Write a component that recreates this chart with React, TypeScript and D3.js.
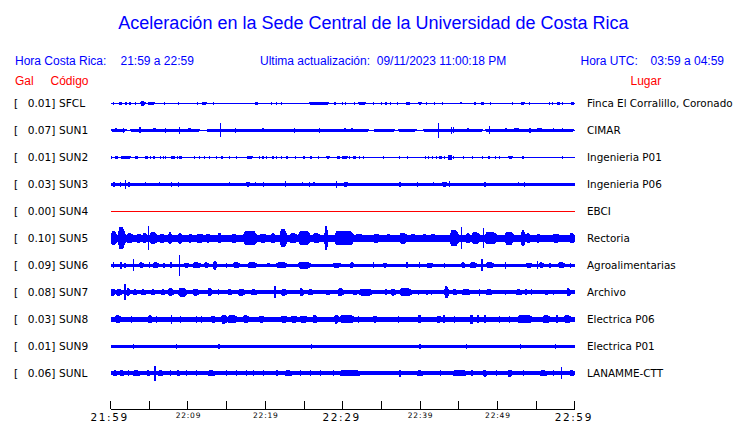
import React from 'react';
import * as d3 from 'd3';

const W = 740;
const H = 423;

// ---------- data ----------
const codes = ['SFCL', 'SUN1', 'SUN2', 'SUN3', 'SUN4', 'SUN5', 'SUN6', 'SUN7', 'SUN8', 'SUN9', 'SUNL'];
const galValues = [0.01, 0.07, 0.01, 0.03, 0.0, 0.1, 0.09, 0.08, 0.03, 0.01, 0.06];
const places = [
  'Finca El Corralillo, Coronado',
  'CIMAR',
  'Ingenieria P01',
  'Ingenieria P06',
  'EBCI',
  'Rectoria',
  'Agroalimentarias',
  'Archivo',
  'Electrica P06',
  'Electrica P01',
  'LANAMME-CTT',
];
const inactive = ['SUN4'];
// background noise half-amplitude (relative units) per station
const noiseLevel = [0.5, 0.5, 0.5, 1.7, 0.5, 3.2, 1.7, 2.0, 2.7, 1.7, 2.0];

// events: [startMinute, endMinute, halfAmplitude]
const evSFCL = [
  [0.36, 0.36, 1.3], [1.1, 1.5, 1.5], [2.0, 2.0, 1.3], [2.5, 2.5, 1.3], [3.2, 3.2, 1.3], [3.9, 4.5, 2.2],
  [4.8, 5.8, 1.8], [7.0, 7.0, 1.3], [8.8, 8.8, 1.3], [11.2, 11.2, 1.3], [11.8, 12.5, 1.5], [13.3, 13.3, 1.3],
  [18.7, 19.0, 1.5], [20.8, 20.8, 1.3], [21.4, 21.4, 1.3], [22.1, 22.1, 1.3], [25.7, 28.2, 1.8], [29.0, 29.0, 1.3],
  [30.0, 30.0, 1.3], [30.4, 30.4, 1.3], [31.5, 31.5, 1.3], [32.0, 33.1, 1.3], [34.0, 34.0, 1.3], [35.0, 35.0, 1.3],
  [35.6, 35.6, 1.3], [36.2, 36.2, 1.3], [37.1, 37.1, 1.3], [38.3, 38.6, 1.8], [39.8, 40.2, 1.3], [40.8, 40.8, 1.3],
  [41.9, 41.9, 1.3], [42.9, 42.9, 1.3], [45.3, 45.3, 1], [47.1, 47.1, 1.3], [47.9, 48.3, 1.8], [49.1, 49.1, 1.3],
  [51.9, 51.9, 1.3], [53.1, 53.5, 1.8], [54.1, 54.1, 1.3], [56.7, 56.7, 1.3], [57.1, 57.1, 1.3], [57.7, 58.1, 1.8],
  [58.4, 58.4, 1.3], [59.5, 60, 1.8],
];
const evSUN1 = [
  [0, 2.1, 1.5], [2.5, 11.6, 1.5], [12.4, 33.5, 1.5], [34, 36.8, 1.5], [37.2, 39.6, 1.5], [40.4, 48.2, 1.5], [48.4, 60, 1.5],
  [0.5, 1.0, 2], [5.5, 6.0, 2], [10.0, 10.5, 2], [19.5, 20, 2], [31, 31.5, 2], [46, 46.5, 2], [52, 53, 2], [55, 56, 2],
  [1.65, 1.65, 2.5], [3.8, 3.8, 3], [7.1, 7.1, 2.5], [8.9, 8.9, 3.5], [14.2, 14.2, 7], [16.1, 16.1, 2.5],
  [23.8, 23.8, 2.5], [27, 27, 2.5], [30.3, 30.3, 2], [42.4, 42.4, 7.8], [44.1, 44.1, 3.5], [44.3, 44.3, 3],
  [49, 49, 4], [51.1, 51.1, 2], [54.2, 54.2, 2.5], [57.2, 57.2, 2], [58.4, 58.4, 2],
];
const evSUN2 = [
  [0.03, 0.03, 1.5], [0.58, 1.0, 1.5], [1.3, 2.7, 1.5], [3.2, 3.4, 1.5], [4.5, 4.7, 1.5], [5.2, 5.2, 1.5],
  [5.6, 5.6, 1.5], [6.4, 6.4, 1.5], [6.8, 6.8, 1.5], [7.1, 7.1, 1.5], [7.9, 8.2, 1.5], [8.6, 8.6, 1.5],
  [8.9, 9.2, 1.5], [10.8, 10.8, 1.5], [11.5, 11.5, 1.5], [12.1, 12.1, 1.5], [12.8, 12.8, 1.5], [13.7, 13.7, 1.5],
  [14.4, 14.4, 1.5], [15.4, 15.4, 1.5], [16.3, 16.3, 1.5], [17.6, 18.5, 1.5], [19.2, 19.2, 1.5], [19.7, 19.7, 1.5],
  [20.1, 20.1, 1.5], [21.0, 21.0, 1.5], [21.4, 21.4, 1.5], [22.1, 22.1, 1.5], [22.8, 22.8, 1.5], [23.9, 23.9, 1.5],
  [25.0, 25.0, 1.5], [25.9, 25.9, 1.5], [26.9, 26.9, 1.5], [27.9, 28.4, 1.5], [29.3, 29.7, 1.5], [29.9, 30.7, 1.5],
  [30.9, 30.9, 1.5], [31.4, 31.7, 1.5], [32.2, 32.2, 1.5], [32.7, 32.7, 1.5], [35.3, 35.3, 1.5], [37.3, 37.3, 1.5],
  [38.4, 38.4, 1.5], [40.7, 40.7, 1.5], [41.1, 41.1, 1.5], [41.6, 41.6, 1.5], [42.1, 42.1, 1.5], [42.5, 42.8, 1.5],
  [43.2, 43.2, 1.5], [43.7, 44.0, 2.5], [44.3, 44.3, 1.5], [45.6, 45.6, 1.5], [46.8, 46.8, 1.5], [48.1, 48.1, 1.5],
  [48.9, 48.9, 1.5], [49.7, 49.7, 1.5], [50.3, 50.3, 1.5], [51.4, 52.1, 1.5], [53.3, 53.3, 1.5], [58.4, 58.4, 1.5],
];
const evSUN3 = [
  [0.45, 0.45, 2.5], [1.23, 1.23, 2.5], [1.91, 1.91, 4.5], [2.39, 2.39, 2.5], [4.5, 4.5, 2], [6.27, 6.27, 2],
  [7.82, 7.82, 2.5], [8.76, 8.76, 2.5], [15.35, 15.35, 2], [17.6, 18.0, 2.5], [18.7, 18.7, 2], [19.75, 19.75, 2.5],
  [22.6, 22.6, 3], [24.8, 24.8, 2], [25.7, 25.7, 2.5], [26.3, 26.3, 2], [29.2, 29.2, 3.5], [30.2, 30.7, 2.5],
  [37.4, 37.4, 2.5], [39.65, 39.65, 2.5], [41.7, 41.7, 2], [42.9, 43.4, 2.5], [43.8, 43.8, 3], [48.4, 48.4, 2.5],
  [52.7, 52.7, 2], [53.5, 53.5, 2.5],
];
const evSUN4: number[][] = [];
const evSUN5 = [
  [0, 0.8, 7], [1.0, 1.9, 11], [2.1, 2.9, 5], [3.4, 4.0, 4.5], [4.2, 4.7, 5], [4.9, 4.9, 12], [5.1, 6.0, 6],
  [6.4, 7.0, 4.5], [7.5, 7.9, 6], [8.8, 9.2, 5.5], [10.1, 10.5, 4.5], [11.1, 12.0, 4.5], [12.4, 12.9, 4.5],
  [13.9, 14.2, 5], [15.7, 16.3, 4.5], [17.2, 18.9, 7], [19.3, 20.2, 4.5], [20.8, 21.3, 5], [21.9, 22.8, 9],
  [23.2, 24.1, 5], [24.3, 25.8, 7], [26.2, 27.1, 5], [27.7, 28.1, 12], [29.0, 31.4, 7], [31.6, 32.7, 4],
  [34.0, 34.8, 4.5], [35.7, 36.3, 4], [37.4, 38.3, 5.5], [38.7, 39.6, 4], [40.4, 40.9, 4], [41.3, 42.2, 4],
  [43.9, 45.0, 8], [45.4, 45.4, 11], [46.0, 46.5, 5], [46.7, 47.7, 6], [48.2, 48.2, 10], [48.4, 49.9, 6],
  [51.0, 52.1, 6.5], [53.1, 53.6, 8], [53.8, 54.2, 5], [55.1, 55.5, 4.5], [57.2, 58.1, 4.5], [59.4, 60, 5],
];
const evSUN6 = [
  [0.36, 0.36, 3], [1.23, 1.45, 3.5], [1.87, 1.87, 2.5], [2.95, 2.95, 6], [3.8, 4.24, 3], [5.0, 5.0, 3],
  [5.5, 6.2, 3], [6.9, 6.9, 2.5], [7.8, 7.8, 3], [8.9, 8.9, 10.5], [9.6, 10.1, 2.5], [10.7, 11.6, 3],
  [12.2, 12.6, 3], [13.3, 13.7, 4.5], [15.0, 15.0, 2.5], [15.9, 16.7, 3], [17.8, 18.9, 3], [20.2, 20.6, 2],
  [21.5, 22.8, 3], [24.3, 25.8, 3.5], [28.8, 29.7, 2.5], [31.0, 31.4, 3], [34.0, 34.0, 3], [35.3, 35.7, 2.5],
  [38.3, 38.3, 3], [39.9, 39.9, 3], [40.9, 41.7, 2.5], [43.2, 43.2, 2.5], [45.4, 45.8, 3], [46.5, 47.3, 3],
  [48.0, 48.0, 6], [48.6, 49.5, 3], [51.0, 51.0, 3.5], [53.8, 54.4, 2.5], [55.2, 55.2, 4], [55.5, 55.9, 3],
  [56.8, 56.8, 2.5], [57.9, 58.7, 3], [59.4, 59.4, 2.5],
];
const evSUN7 = [
  [0, 0.58, 3.5], [0.8, 1.45, 3.5], [1.87, 1.87, 8], [2.1, 2.5, 4], [2.95, 3.4, 3], [4.0, 4.5, 3],
  [5.3, 5.75, 3], [6.6, 7.0, 3], [7.5, 8.1, 4], [8.8, 9.85, 4.5], [10.7, 11.35, 3.5], [12.6, 13.1, 4],
  [13.9, 13.9, 3], [15.2, 15.7, 3], [16.5, 17.4, 3.5], [18.25, 18.9, 3], [21.26, 21.26, 6], [22.1, 22.8, 3.5],
  [24.5, 24.9, 4], [25.6, 26.2, 3], [27.9, 28.4, 2.5], [29.4, 30.1, 4], [31.4, 31.8, 2.5], [32.2, 33.8, 3.5],
  [35.5, 35.7, 3], [36.3, 36.8, 3.5], [37.4, 38.9, 4], [39.8, 39.8, 2.5], [40.9, 40.9, 2.5], [41.5, 41.5, 2.5],
  [43.2, 43.7, 6], [44.3, 44.7, 3], [45.4, 46.5, 3], [47.7, 47.7, 3.5], [48.6, 49.3, 3], [51.0, 51.0, 2.5],
  [52.5, 53.1, 3], [53.6, 53.8, 3], [54.4, 54.4, 3], [56.2, 56.4, 2.5], [57.2, 57.2, 2.5], [59.0, 59.4, 4],
];
const evSUN8 = [
  [0.7, 1.23, 4], [2.74, 2.74, 3.5], [4.9, 5.3, 4], [5.97, 5.97, 3.5], [7.9, 7.9, 4.5], [9.0, 9.0, 3.5],
  [11.1, 11.1, 3.5], [11.8, 11.8, 3.5], [13.1, 13.5, 3.5], [14.4, 15.0, 4.5], [15.2, 16.3, 4], [17.2, 17.8, 4],
  [19.3, 19.75, 3.5], [22.1, 22.8, 3.5], [23.4, 24.1, 3.5], [24.5, 25.4, 3.5], [26.2, 26.65, 4], [29.0, 29.4, 4.5],
  [29.7, 31.4, 4], [32.0, 32.0, 3.5], [34.0, 34.4, 3.5], [37.2, 37.2, 3.5], [39.8, 40.0, 4], [42.2, 42.6, 3.5],
  [43.0, 43.2, 4], [44.5, 44.5, 3.5], [46.5, 46.7, 4.5], [47.5, 47.5, 4], [48.4, 48.4, 4], [50.3, 50.3, 3.5],
  [51.6, 51.6, 3.5], [52.7, 54.4, 4], [55.9, 56.8, 4], [57.7, 57.7, 4], [58.7, 59.4, 4],
];
const evSUN9 = [
  [3.0, 3.0, 2.2], [8.5, 8.5, 2.2], [14.0, 14.0, 2.2], [26.0, 26.0, 2.2], [40.0, 40.0, 2.2], [46.0, 46.0, 2.2],
  [53.0, 53.0, 2.2], [57.5, 57.5, 2.2],
];
const evSUNL = [
  [0.36, 0.8, 3], [1.23, 1.65, 3], [2.3, 2.3, 3], [2.95, 3.8, 3], [4.7, 5.1, 3], [5.75, 5.75, 7.8],
  [6.2, 6.8, 3], [7.7, 7.7, 3], [8.6, 9.0, 3], [9.85, 9.85, 3], [11.1, 11.1, 3], [12.6, 13.5, 3],
  [15.0, 15.0, 3], [16.3, 16.3, 3], [17.6, 17.6, 3], [18.5, 18.5, 3], [19.75, 19.75, 3], [21.5, 21.5, 3],
  [22.55, 23.4, 3], [24.5, 24.5, 3], [25.8, 25.8, 3], [27.1, 27.1, 3], [28.8, 28.8, 3], [29.7, 32.2, 3],
  [37.4, 37.4, 3.5], [39.6, 40.4, 3], [42.6, 42.6, 3], [44.3, 46.0, 3], [46.7, 46.7, 3], [48.2, 48.6, 3.5],
  [49.9, 49.9, 3], [51.4, 51.9, 3.5], [53.4, 53.4, 3], [55.5, 56.4, 3], [57.2, 57.2, 3], [58.3, 58.3, 6],
  [59.4, 60, 3],
];
const stationEvents = [evSFCL, evSUN1, evSUN2, evSUN3, evSUN4, evSUN5, evSUN6, evSUN7, evSUN8, evSUN9, evSUNL];

const tickMinutes = [0, 5, 10, 15, 20, 25, 30, 35, 40, 45, 50, 55, 60];
const tickLabels = ['21:59', '', '22:09', '', '22:19', '', '22:29', '', '22:39', '', '22:49', '', '22:59'];
const majorLabels = ['21:59', '22:29', '22:59'];

const title = 'Aceleración en la Sede Central de la Universidad de Costa Rica';
const localTimeLabel = 'Hora Costa Rica:';
const localTimeRange = '21:59 a 22:59';
const updateLabel = 'Ultima actualización:  09/11/2023 11:00:18 PM';
const utcLabel = 'Hora UTC:';
const utcRange = '03:59 a 04:59';

// ---------- layout ----------
const x = d3.scaleLinear().domain([0, 60]).range([110.6, 574.8]);
const y = d3.scalePoint<string>().domain(codes).range([103.3, 373.3]);
const amp = d3.scaleLinear().domain([0, 10]).range([0, 10]);

const BLUE = '#0000ff';
const RED = '#ff0000';
const SANS = '"Liberation Sans", Arial, sans-serif';
const DEJAVU = '"DejaVu Sans", sans-serif';

// wave-packet outline for an event (short taper at both ends)
function packetPath(ev: number[], cy: number, base: number) {
  const x0 = Math.max(x(ev[0]) - 0.6, x(0));
  let x1 = Math.min(x(ev[1]) + 0.6, x(60));
  if (x1 - x0 < 1.2) x1 = x0 + 1.2;
  const a = amp(ev[2]);
  const w = x1 - x0;
  if (w < 4) {
    return `M${x0},${cy - a}H${x1}V${cy + a}H${x0}Z`;
  }
  const b = Math.min(base, a);
  const p1 = x0 + Math.min(w * 0.2, 2);
  const p2 = x1 - Math.min(w * 0.4, 3);
  return [
    `M${x0},${cy - b}`,
    `L${p1},${cy - a}`,
    `L${p2},${cy - a}`,
    `L${x1},${cy - b}`,
    `L${x1},${cy + b}`,
    `L${p2},${cy + a}`,
    `L${p1},${cy + a}`,
    `L${x0},${cy + b}`,
    'Z',
  ].join('');
}

export default function App() {
  const axisY = 409;
  return (
    <svg
      width={W}
      height={H}
      viewBox={`0 0 ${W} ${H}`}
      style={{ position: 'absolute', left: 0, top: 0, background: '#fff' }}
    >
      <rect width={W} height={H} fill="#fff" />
      <text x={373.5} y={29} textAnchor="middle" fontFamily={SANS} fontSize={18} fill={BLUE}>
        {title}
      </text>
      <g fontFamily={SANS} fontSize={12} fill={BLUE}>
        <text x={15} y={65}>{localTimeLabel}</text>
        <text x={120.5} y={65}>{localTimeRange}</text>
        <text x={260} y={65} style={{ whiteSpace: 'pre' }}>{updateLabel}</text>
        <text x={580.5} y={65}>{utcLabel}</text>
        <text x={724} y={65} textAnchor="end">{utcRange}</text>
      </g>
      <g fontFamily={SANS} fontSize={12} fill={RED}>
        <text x={15} y={85}>Gal</text>
        <text x={50.5} y={85}>Código</text>
        <text x={630.5} y={85}>Lugar</text>
      </g>

      {codes.map((code, i) => {
        const cy = y(code) as number;
        const color = inactive.includes(code) ? RED : BLUE;
        const base = Math.max(amp(noiseLevel[i]), 0.5);
        return (
          <g key={code}>
            <g fontFamily={DEJAVU} fontSize={10.6} fill="#000">
              <text x={14} y={cy + 4}>[</text>
              <text x={55.5} y={cy + 4} textAnchor="end">{galValues[i].toFixed(2) + ']'}</text>
              <text x={59} y={cy + 4}>{code}</text>
              <text x={587} y={cy + 4} fontSize={10.4}>{places[i]}</text>
            </g>
            <g fill={color} shapeRendering="crispEdges">
              <rect x={x(0)} y={cy - base} width={x(60) - x(0)} height={base * 2} />
              {stationEvents[i].map((ev, j) => (
                <path key={j} d={packetPath(ev, cy, base)} />
              ))}
            </g>
          </g>
        );
      })}

      <g stroke="#000" strokeWidth={1} shapeRendering="crispEdges">
        <line x1={x(0)} x2={x(60)} y1={axisY} y2={axisY} />
        {tickMinutes.map((m) => (
          <line key={m} x1={x(m)} x2={x(m)} y1={axisY - 8} y2={axisY} />
        ))}
      </g>
      <g fontFamily={DEJAVU} fill="#000" textAnchor="middle">
        {tickMinutes.map((m, i) => {
          const lab = tickLabels[i];
          if (!lab) return null;
          const major = majorLabels.includes(lab);
          return (
            <text
              key={m}
              x={x(m) + (major ? -1 : 0.5)}
              y={major ? 420.5 : 418}
              fontSize={major ? 10.5 : 7.5}
              letterSpacing={major ? 1.6 : 0.8}
            >
              {lab}
            </text>
          );
        })}
      </g>
    </svg>
  );
}
